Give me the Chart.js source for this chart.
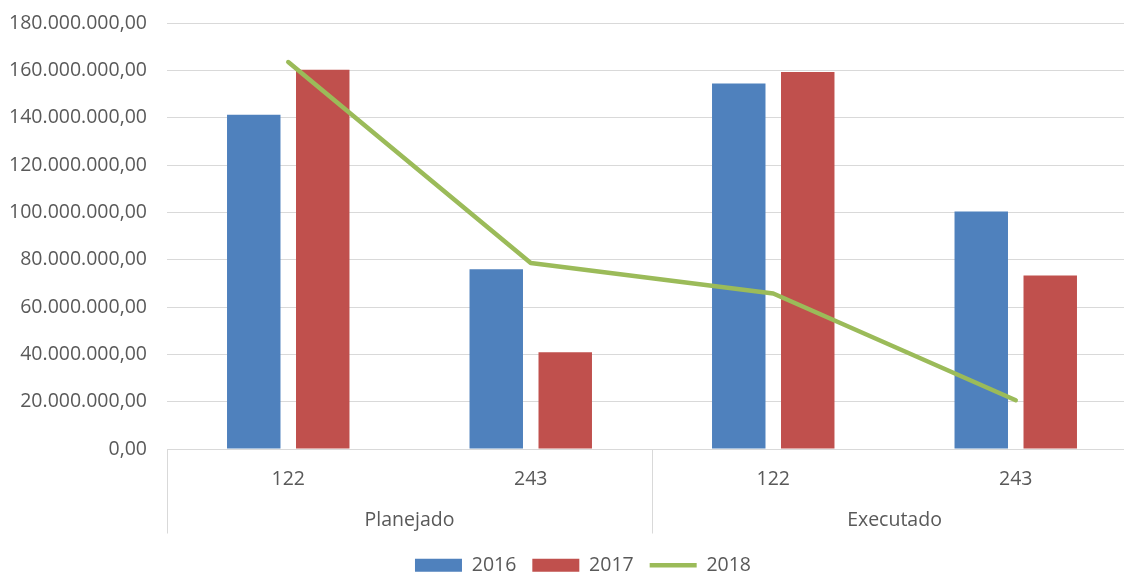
<!DOCTYPE html>
<html lang="pt-BR">
<head>
<meta charset="utf-8">
<title>Planejado x Executado</title>
<script src="https://cdn.jsdelivr.net/npm/chart.js@4/dist/chart.umd.min.js"></script>
<style>
  html, body { margin: 0; padding: 0; background: #ffffff; overflow: hidden; }
  #wrap { width: 1166px; height: 585px; }
</style>
</head>
<body>
<div id="wrap"><canvas id="chart" width="1166" height="585"></canvas></div>
<script>
// Category rows of the x axis
const categories = ['122', '243', '122', '243'];
const groups = ['Planejado', 'Executado'];

// Series values (R$)
const values2016 = [141200000, 76000000, 154400000, 100300000];
const values2017 = [160200000, 40900000, 159300000, 73300000];
const values2018 = [163500000, 78600000, 65700000, 20600000];

// Value axis tick positions
const yTickValues = [0, 20000000, 40000000, 60000000, 80000000, 100000000,
  120000000, 140000000, 160000000, 180000000];

const FONT = "'Open Sans', 'Noto Sans', sans-serif";
const FONT_SIZE = 19.5;
const TEXT = '#595959';
const GRID = '#D9D9D9';

// pt-BR number format: 180.000.000,00
function formatBR(v) {
  const s = Math.round(v).toString();
  return s.replace(/\B(?=(\d{3})+(?!\d))/g, '.') + ',00';
}

// Vertical dividers on the two-row category axis
const groupDividers = {
  id: 'groupDividers',
  afterDraw(chart) {
    const x = chart.scales.x;
    const x2 = chart.scales.x2;
    const ctx = chart.ctx;
    const per = categories.length / groups.length;
    ctx.save();
    ctx.strokeStyle = GRID;
    ctx.lineWidth = 1;
    for (let g = 0; g <= groups.length; g++) {
      let px;
      if (g === 0) px = x.left;
      else if (g === groups.length) px = x.right;
      else px = (x.getPixelForTick(g * per - 1) + x.getPixelForTick(g * per)) / 2;
      px = Math.round(px) + 0.5;
      ctx.beginPath();
      ctx.moveTo(px, x.top);
      ctx.lineTo(px, x2.bottom - 6);
      ctx.stroke();
    }
    ctx.restore();
  }
};

new Chart(document.getElementById('chart'), {
  type: 'bar',
  data: {
    labels: categories,
    datasets: [
      {
        label: '2016',
        data: values2016,
        backgroundColor: '#4F81BD',
        borderWidth: 0,
        pointStyle: 'rect',
        categoryPercentage: 0.569,
        barPercentage: 0.775,
        order: 1
      },
      {
        label: '2017',
        data: values2017,
        backgroundColor: '#C0504D',
        borderWidth: 0,
        pointStyle: 'rect',
        categoryPercentage: 0.569,
        barPercentage: 0.775,
        order: 1
      },
      {
        type: 'line',
        label: '2018',
        data: values2018,
        borderColor: '#9BBB59',
        backgroundColor: '#9BBB59',
        borderWidth: 4.5,
        borderJoinStyle: 'round',
        borderCapStyle: 'round',
        pointRadius: 0,
        pointHoverRadius: 0,
        pointStyle: 'line',
        tension: 0,
        fill: false,
        order: 0
      }
    ]
  },
  options: {
    responsive: false,
    animation: false,
    events: [],
    layout: { padding: { left: 0, right: 0, top: 23, bottom: 0 } },
    plugins: {
      tooltip: { enabled: false },
      legend: {
        position: 'bottom',
        labels: {
          usePointStyle: true,
          pointStyleWidth: 47,
          boxHeight: 13,
          padding: 16,
          color: TEXT,
          font: { family: FONT, size: FONT_SIZE },
          sort: (a, b) => a.datasetIndex - b.datasetIndex
        }
      }
    },
    scales: {
      y: {
        min: 0,
        max: 180000000,
        afterBuildTicks(scale) {
          scale.ticks = yTickValues.map(v => ({ value: v }));
        },
        afterFit(scale) { scale.width = 167; },
        grid: { color: GRID, lineWidth: 1, drawTicks: true, tickLength: 20, tickColor: 'rgba(0,0,0,0)' },
        border: { display: false },
        ticks: {
          padding: 0,
          color: TEXT,
          font: { family: FONT, size: FONT_SIZE },
          callback: (v) => formatBR(v)
        }
      },
      // blank right margin so the plot area ends short of the canvas edge
      yRight: {
        type: 'linear',
        position: 'right',
        display: true,
        afterFit(scale) { scale.width = 29; },
        grid: { display: false, drawTicks: false },
        border: { display: false },
        ticks: { display: false }
      },
      x: {
        position: 'bottom',
        weight: 0,
        grid: { display: false, drawTicks: false },
        border: { display: false },
        afterFit(scale) { scale.height = 50; },
        ticks: {
          padding: 19,
          color: TEXT,
          font: { family: FONT, size: FONT_SIZE },
          maxRotation: 0,
          autoSkip: false
        }
      },
      x2: {
        type: 'category',
        labels: groups,
        position: 'bottom',
        weight: 1,
        offset: true,
        grid: { display: false, drawTicks: false },
        border: { display: false },
        afterFit(scale) { scale.height = 40.5; },
        ticks: {
          padding: 10,
          color: TEXT,
          font: { family: FONT, size: FONT_SIZE },
          maxRotation: 0,
          autoSkip: false
        }
      }
    }
  },
  plugins: [groupDividers]
});
</script>
</body>
</html>
